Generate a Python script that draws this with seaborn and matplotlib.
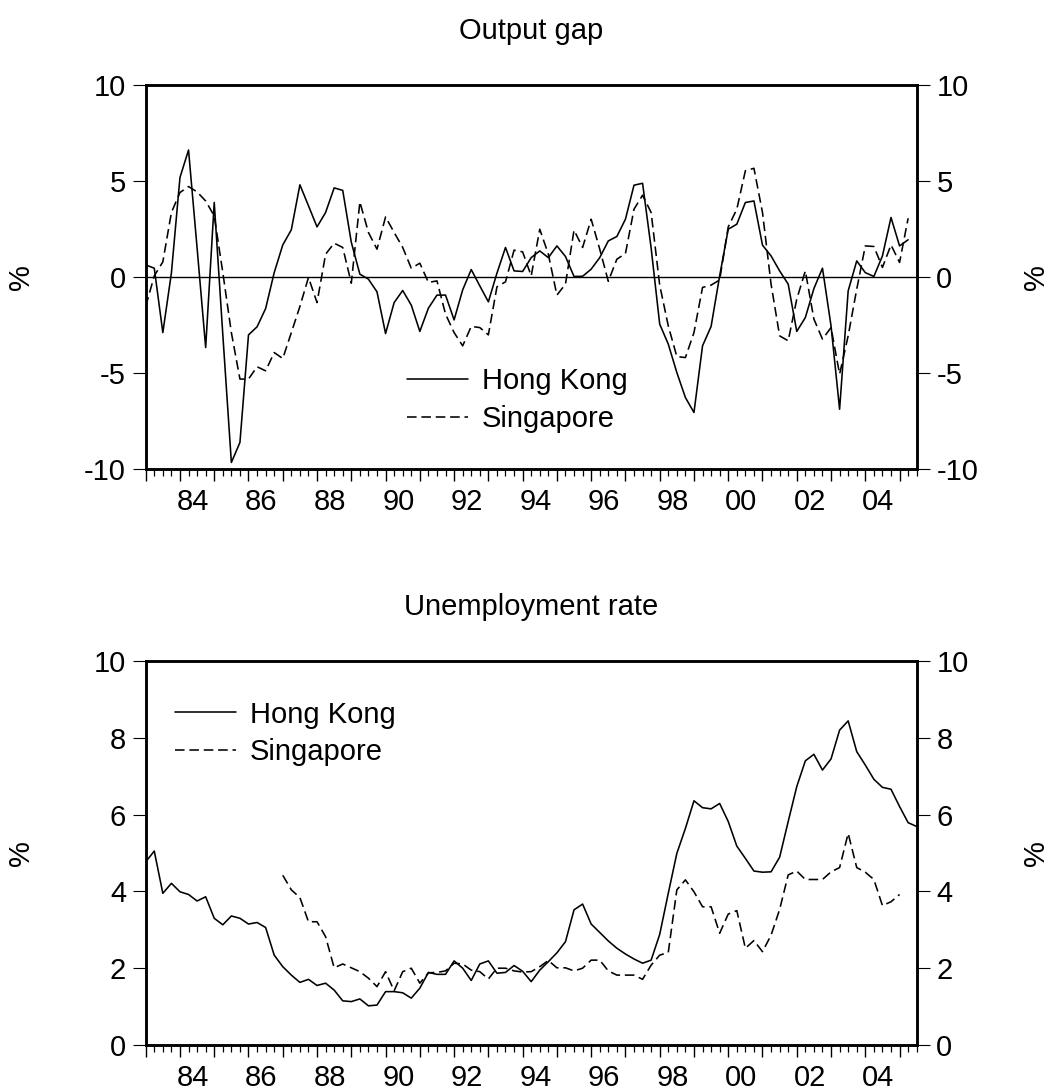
import numpy as np
import pandas as pd
import matplotlib
matplotlib.use("Agg")
import matplotlib.pyplot as plt
import seaborn as sns

# ---------------- data (quarterly, 1983Q1 onwards) ----------------
start_year = 1983
gap_hk = [0.62, 0.45, -2.9, 0.2, 5.17, 6.6, 1.5, -3.68, 3.87, -3.0,
          -9.66, -8.62, -3.02, -2.6, -1.65, 0.22, 1.66, 2.45, 4.79, 3.7,
          2.6, 3.35, 4.63, 4.5, 1.8, 0.14, -0.12, -0.78, -2.95, -1.34,
          -0.71, -1.47, -2.84, -1.63, -0.95, -0.95, -2.24, -0.68, 0.38, -0.47,
          -1.3, 0.19, 1.53, 0.31, 0.28, 1.0, 1.35, 1.0, 1.61, 1.06,
          0.02, 0.03, 0.4, 1.0, 1.87, 2.1, 3.0, 4.77, 4.87, 1.5,
          -2.46, -3.5, -4.98, -6.28, -7.06, -3.59, -2.58, 0.05, 2.48, 2.74,
          3.87, 3.95, 1.65, 1.09, 0.31, -0.38, -2.84, -2.12, -0.61, 0.45,
          -2.55, -6.89, -0.73, 0.83, 0.22, 0.02, 1.09, 3.09, 1.61, 1.93]
gap_sg = [-1.54, 0.05, 0.78, 3.35, 4.39, 4.7, 4.42, 3.95, 3.17, 0.23,
          -2.9, -5.32, -5.32, -4.68, -4.89, -3.94, -4.25, -2.9, -1.54, -0.03,
          -1.34, 1.18, 1.75, 1.53, -0.33, 3.9, 2.31, 1.44, 3.12, 2.31,
          1.53, 0.45, 0.71, -0.29, -0.21, -1.94, -2.9, -3.59, -2.58, -2.64,
          -3.02, -0.52, -0.26, 1.39, 1.3, 0.05, 2.48, 1.18, -0.95, -0.38,
          2.43, 1.53, 3.0, 1.44, -0.23, 0.92, 1.21, 3.52, 4.25, 3.35,
          -0.43, -2.55, -4.15, -4.2, -2.9, -0.55, -0.43, -0.16, 2.6, 3.52,
          5.52, 5.65, 3.35, -0.38, -3.07, -3.33, -1.16, 0.31, -2.2, -3.24,
          -2.64, -5.06, -3.07, -0.64, 1.61, 1.58, 0.49, 1.66, 0.75, 3.05]
unemp_hk = [4.77, 5.05, 3.95, 4.21, 3.99, 3.92, 3.75, 3.86, 3.3, 3.13,
            3.36, 3.3, 3.15, 3.19, 3.06, 2.34, 2.04, 1.82, 1.63, 1.71,
            1.55, 1.61, 1.43, 1.15, 1.13, 1.2, 1.02, 1.04, 1.39, 1.39,
            1.36, 1.22, 1.48, 1.89, 1.84, 1.84, 2.19, 2.0, 1.68, 2.11,
            2.19, 1.87, 1.89, 2.07, 1.92, 1.65, 1.95, 2.17, 2.4, 2.69,
            3.52, 3.67, 3.15, 2.93, 2.71, 2.52, 2.37, 2.24, 2.13, 2.21,
            2.88, 3.95, 4.99, 5.64, 6.36, 6.18, 6.15, 6.29, 5.82, 5.18,
            4.86, 4.53, 4.5, 4.51, 4.89, 5.82, 6.73, 7.4, 7.57, 7.16,
            7.45, 8.2, 8.44, 7.64, 7.29, 6.92, 6.71, 6.66, 6.21, 5.79, 5.69]
unemp_sg = [np.nan] * 16 + [
            4.42, 4.04, 3.84, 3.21, 3.21, 2.82, 2.01, 2.11, 2.01, 1.91,
            1.74, 1.52, 1.91, 1.41, 1.91, 2.0, 1.61, 1.88, 1.89, 1.93,
            2.13, 2.11, 1.95, 1.91, 1.72, 2.0, 2.0, 1.93, 1.9, 1.91,
            2.04, 2.2, 2.01, 2.01, 1.93, 2.0, 2.21, 2.21, 1.93, 1.82,
            1.82, 1.82, 1.71, 2.08, 2.34, 2.41, 4.04, 4.3, 3.99, 3.6,
            3.6, 2.91, 3.41, 3.5, 2.52, 2.72, 2.43, 2.86, 3.53, 4.43,
            4.53, 4.31, 4.31, 4.31, 4.51, 4.62, 5.51, 4.62, 4.5, 4.31,
            3.63, 3.73, 3.92]
year_labels = ["84", "86", "88", "90", "92", "94", "96", "98", "00", "02", "04"]
label_years = [1984, 1986, 1988, 1990, 1992, 1994, 1996, 1998, 2000, 2002, 2004]

def qdates(n):
    return start_year + np.arange(n) / 4.0

df_gap = pd.concat([
    pd.DataFrame({"date": qdates(len(gap_hk)), "value": gap_hk, "country": "Hong Kong"}),
    pd.DataFrame({"date": qdates(len(gap_sg)), "value": gap_sg, "country": "Singapore"}),
])
df_un = pd.concat([
    pd.DataFrame({"date": qdates(len(unemp_hk)), "value": unemp_hk, "country": "Hong Kong"}),
    pd.DataFrame({"date": qdates(len(unemp_sg)), "value": unemp_sg, "country": "Singapore"}),
]).dropna()

# ---------------- style ----------------
sns.set_style("white")
plt.rcParams["font.family"] = ["Liberation Sans", "DejaVu Sans"]
plt.rcParams["axes.unicode_minus"] = False
plt.rcParams["text.color"] = "black"
plt.rcParams["axes.labelcolor"] = "black"
plt.rcParams["xtick.color"] = "black"
plt.rcParams["ytick.color"] = "black"
plt.rcParams["axes.edgecolor"] = "black"
FS = 21

W, H = 1051, 1092
fig = plt.figure(figsize=(W / 100, H / 100), dpi=100)

ax_l, ax_r = 145.7, 916.7
panels = [
    dict(top=84.7, bot=469.0, df=df_gap, ylim=(-10, 10), yt=[-10, -5, 0, 5, 10],
         title="Output gap", leg=(0.339, 0.1795), zero=True),
    dict(top=661.0, bot=1045.0, df=df_un, ylim=(0, 10), yt=[0, 2, 4, 6, 8, 10],
         title="Unemployment rate", leg=(0.038, 0.8115), zero=False),
]

xmin, xmax = 1983.0, 2005.5
for p in panels:
    ax = fig.add_axes([ax_l / W, 1 - p["bot"] / H, (ax_r - ax_l) / W, (p["bot"] - p["top"]) / H])
    sns.lineplot(data=p["df"], x="date", y="value", hue="country", style="country",
                 palette={"Hong Kong": "black", "Singapore": "black"},
                 dashes={"Hong Kong": "", "Singapore": (6, 3)},
                 linewidth=1.15, ax=ax, legend=True)
    if p["zero"]:
        ax.axhline(0, color="black", linewidth=1.0, zorder=1)
    ax.set_xlim(xmin, xmax)
    ax.set_ylim(*p["ylim"])
    ax.set_yticks(p["yt"])
    ax.set_yticklabels([str(v) for v in p["yt"]])
    ax.set_xticks(np.arange(1983, 2006, 1))
    ax.set_xticks(np.arange(1983, 2005.51, 0.25), minor=True)
    ax.tick_params(axis="x", which="major", direction="out", length=8.5, width=1.0,
                   labelbottom=False, bottom=True)
    ax.tick_params(axis="x", which="minor", direction="out", length=5.2, width=0.9, bottom=True)
    ax.tick_params(axis="y", which="major", direction="out", length=9.1, width=0.8,
                   left=True, pad=5, labelsize=FS)
    for s in ax.spines.values():
        s.set_linewidth(1.8)
        s.set_color("black")
    ax.set_xlabel("")
    ax.set_ylabel("%", fontsize=FS)
    ax.yaxis.set_label_coords(-0.1436, 0.5)
    ax.set_title(p["title"], fontsize=FS, pad=33, color="black")

    # year labels centred on each year's four quarters
    sec = ax.secondary_xaxis("bottom")
    sec.set_xticks([y + 0.375 for y in label_years])
    sec.set_xticklabels(year_labels)
    sec.tick_params(length=0, labelsize=FS, pad=13.5, colors="black")
    sec.spines["bottom"].set_visible(False)

    # right axis mirror
    ax2 = ax.twinx()
    ax2.set_ylim(*p["ylim"])
    ax2.set_yticks(p["yt"])
    ax2.set_yticklabels([str(v) for v in p["yt"]])
    ax2.tick_params(axis="y", direction="out", length=9.1, width=0.8, right=True,
                    pad=5, labelsize=FS)
    for s in ax2.spines.values():
        s.set_linewidth(1.8)
    ax2.set_ylabel("%", fontsize=FS)
    ax2.yaxis.set_label_coords(1.137, 0.5)

    handles, labels = ax.get_legend_handles_labels()
    ax.legend(handles=handles, labels=labels, loc="center left", bbox_to_anchor=p["leg"],
              frameon=False, fontsize=FS, handlelength=2.1, handletextpad=0.47,
              borderpad=0, borderaxespad=0, labelspacing=0.33)

fig.savefig("out.png", dpi=100, facecolor="white")
